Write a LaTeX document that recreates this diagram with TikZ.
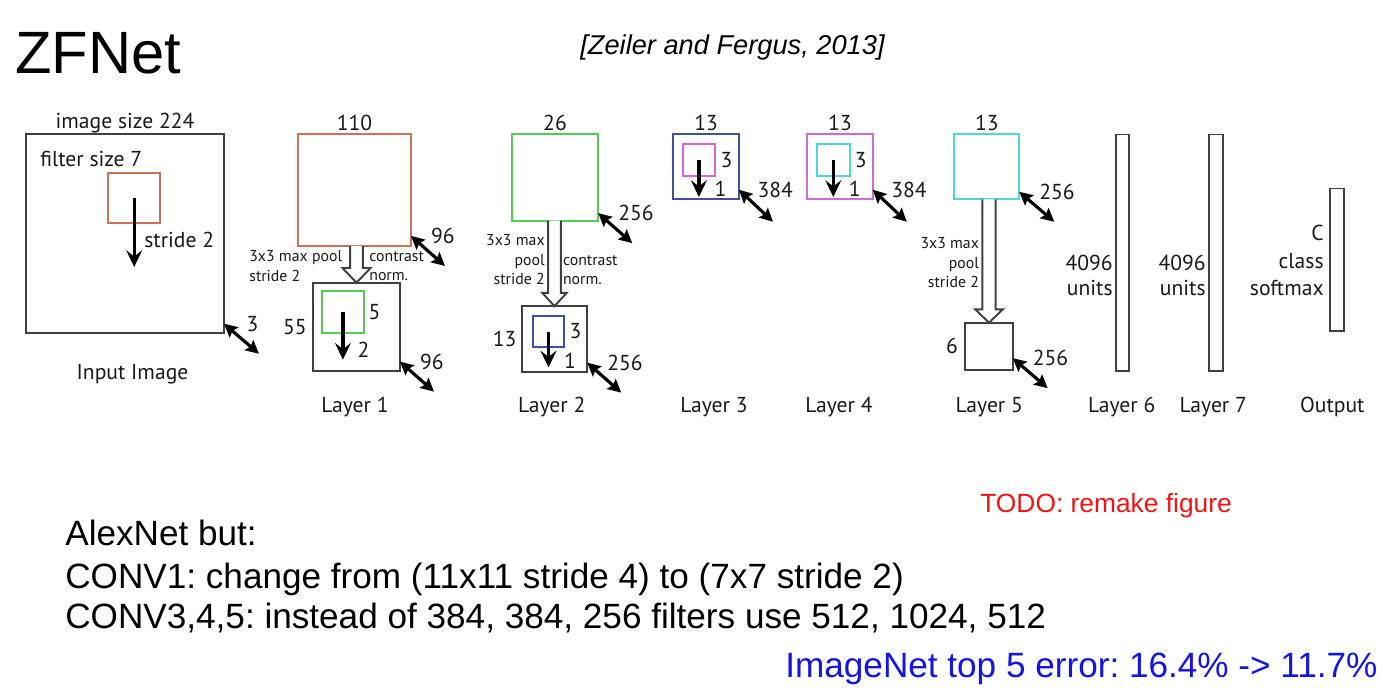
\documentclass[tikz,border=0pt]{standalone}
\usepackage{fontspec}
\setmainfont{Liberation Sans}
\newfontfamily\figfont{PT Sans}
\usetikzlibrary{arrows.meta, positioning, calc}
\frenchspacing

\definecolor{mapred}{RGB}{200,115,90}
\definecolor{mapgreen}{RGB}{85,205,85}
\definecolor{mapblue}{RGB}{65,80,160}
\definecolor{mapmagenta}{RGB}{210,105,215}
\definecolor{mapcyan}{RGB}{80,215,215}
\definecolor{todored}{RGB}{240,20,20}
\definecolor{netblue}{RGB}{20,20,230}

\begin{document}
\begin{tikzpicture}[
    x=0.02cm, y=-0.02cm,
    % --- Feature map boxes ---
    fmap/.style={
        draw=#1,
        line width=1.1pt,
        inner sep=0pt,
        outer sep=0pt
    },
    fmap/.default=black!75,
    % --- Figure texts ---
    figtext/.style={
        font=\figfont\fontsize{12.3}{14.5}\selectfont,
        inner sep=0pt,
        text=black!90
    },
    smalltext/.style={
        font=\figfont\fontsize{9}{11}\selectfont,
        inner sep=0pt,
        text=black!90
    },
    % --- Arrows ---
    stride arrow/.style={
        -{Stealth[length=9.5pt, width=9pt, inset=3.5pt]},
        line width=1.9pt
    },
    depth arrow/.style={
        {Stealth[length=7.5pt, width=7.5pt, inset=1.2pt]}-{Stealth[length=7.5pt, width=7.5pt, inset=1.2pt]},
        line width=1.8pt
    },
    depth label/.style={
        figtext,
        pos=0,
        anchor=west,
        xshift=0.37cm
    },
    pool arrow/.style={
        draw=black!75,
        fill=white,
        line width=1.1pt
    },
    % --- Slide texts ---
    slide text/.style={
        font=\fontsize{20}{24}\selectfont,
        inner sep=0pt,
        anchor=base west
    }
]
    \useasboundingbox (0,0) rectangle (1400,700);

    % =========================================
    % 1. TITLE
    % =========================================
    \node[font=\fontsize{34}{40}\selectfont, inner sep=0pt, anchor=base west] (title) at (15,73.5) {ZFNet};
    \node[font=\itshape\fontsize{15.5}{18}\selectfont, inner sep=0pt, anchor=base west] (cite) at (580,54.8) {[Zeiler and Fergus, 2013]};

    % =========================================
    % 2. INPUT IMAGE
    % =========================================
    \node[fmap, minimum width=3.96cm, minimum height=3.97cm] (inimg) at (125,233.5) {};
    \node[fmap=mapred, minimum width=1.03cm, minimum height=1.01cm] (infilt) at (134.2,198) {};
    \node[figtext, above=0.02cm of inimg] (insize) {image size 224};
    \node[figtext, anchor=base west] (infsize) at (40,166.7) {filter size 7};
    \node[figtext, anchor=base west] (instride) at (144,247.4) {stride 2};
    \draw[stride arrow] (infilt.center) -- ++(0,69);
    \draw[depth arrow] ([yshift=0.18cm]inimg.south east) -- ++(35,30) node[depth label, xshift=0.05cm] {3};
    \node[figtext, anchor=base] (inlabel) at (132.5,379) {Input Image};

    % =========================================
    % 3. LAYER 1
    % =========================================
    \node[fmap=mapred, minimum width=2.26cm, minimum height=2.23cm] (l1map) at (354.5,190.2) {};
    \node[fmap, minimum width=1.74cm, minimum height=1.76cm] (l1pool) at (356.5,326.6) {};
    \node[fmap=mapgreen, minimum width=0.85cm, minimum height=0.84cm] (l1filt) at (342.9,311.7) {};
    \node[figtext, above=0.06cm of l1map] {110};
    \node[figtext, left=0.12cm of l1pool] {55};
    \node[figtext, right=0.08cm of l1filt] {5};
    \draw[pool arrow] let \p1=(l1map.south), \p2=(l1pool.north) in
        (\x2-3.6pt,\y1) -- (\x2-3.6pt,\y2+8.3pt) -- (\x2-8pt,\y2+8.3pt) -- (\x2,\y2)
        -- (\x2+8pt,\y2+8.3pt) -- (\x2+3.6pt,\y2+8.3pt) -- (\x2+3.6pt,\y1);
    \node[smalltext, align=left, anchor=west] at (249,266) {3x3 max pool\\stride 2};
    \node[smalltext, align=left, anchor=west] at (369,266) {contrast\\norm.};
    \draw[stride arrow] (l1filt.center) -- ++(0,48) node[figtext, pos=1, anchor=west, xshift=0.26cm, yshift=0.2cm] {2};
    \draw[depth arrow] ([yshift=0.2cm]l1map.south east) -- ++(34,30) node[depth label] {96};
    \draw[depth arrow] ([yshift=0.18cm]l1pool.south east) -- ++(34,30) node[depth label] {96};
    \node[figtext, anchor=base] (l1label) at (355,412.4) {Layer 1};

    % =========================================
    % 4. LAYER 2
    % =========================================
    \node[fmap=mapgreen, minimum size=1.73cm] (l2map) at (555,177.4) {};
    \node[fmap, minimum size=1.31cm] (l2pool) at (554.5,338.9) {};
    \node[fmap=mapblue, minimum size=0.63cm] (l2filt) at (548.5,331.5) {};
    \node[figtext, above=0.06cm of l2map] {26};
    \node[figtext, left=0.1cm of l2pool] {13};
    \node[figtext, right=0.1cm of l2filt] {3};
    \draw[pool arrow] let \p1=(l2map.south), \p2=(l2pool.north) in
        (\x2-3.6pt,\y1) -- (\x2-3.6pt,\y2+7.6pt) -- (\x2-7pt,\y2+7.6pt) -- (\x2,\y2)
        -- (\x2+7pt,\y2+7.6pt) -- (\x2+3.6pt,\y2+7.6pt) -- (\x2+3.6pt,\y1);
    \node[smalltext, align=right, anchor=east] at (545,259.6) {3x3 max\\pool\\stride 2};
    \node[smalltext, align=left, anchor=west] at (562.7,270) {contrast\\norm.};
    \draw[stride arrow] (l2filt.center) -- ++(0,36) node[figtext, pos=1, anchor=west, xshift=0.28cm, yshift=0.14cm] {1};
    \draw[depth arrow] ([yshift=0.15cm]l2map.south east) -- ++(34,30) node[depth label] {256};
    \draw[depth arrow] ([yshift=0.18cm]l2pool.south east) -- ++(34,30) node[depth label] {256};
    \node[figtext, anchor=base] (l2label) at (551.7,412.4) {Layer 2};

    % =========================================
    % 5. LAYERS 3 AND 4
    % =========================================
    \node[fmap=mapblue, minimum size=1.31cm] (l3map) at (706.2,166.5) {};
    \node[fmap=mapmagenta, minimum size=0.65cm] (l3filt) at (698.9,160) {};
    \node[figtext, above=0.06cm of l3map] {13};
    \node[figtext, right=0.1cm of l3filt] {3};
    \draw[stride arrow] (l3filt.center) -- ++(0,37) node[figtext, pos=1, anchor=west, xshift=0.28cm, yshift=0.16cm] {1};
    \draw[depth arrow] ([yshift=0.19cm]l3map.south east) -- ++(34,32) node[depth label, xshift=-0.03cm] {384};
    \node[figtext, anchor=base] (l3label) at (714,412.4) {Layer 3};

    \node[fmap=mapmagenta, minimum size=1.31cm] (l4map) at (840,166.5) {};
    \node[fmap=mapcyan, minimum size=0.65cm] (l4filt) at (833.3,160) {};
    \node[figtext, above=0.06cm of l4map] {13};
    \node[figtext, right=0.1cm of l4filt] {3};
    \draw[stride arrow] (l4filt.center) -- ++(0,37) node[figtext, pos=1, anchor=west, xshift=0.28cm, yshift=0.16cm] {1};
    \draw[depth arrow] ([yshift=0.19cm]l4map.south east) -- ++(34,32) node[depth label, xshift=-0.03cm] {384};
    \node[figtext, anchor=base] (l4label) at (839,412.4) {Layer 4};

    % =========================================
    % 6. LAYER 5
    % =========================================
    \node[fmap=mapcyan, minimum size=1.30cm] (l5map) at (986.8,166.8) {};
    \node[fmap, minimum size=0.95cm] (l5pool) at (989,346.4) {};
    \node[figtext, above=0.06cm of l5map] {13};
    \node[figtext, left=0.14cm of l5pool] {6};
    \draw[pool arrow] let \p1=(l5map.south), \p2=(l5pool.north) in
        (\x2-3.8pt,\y1) -- (\x2-3.8pt,\y2+7.6pt) -- (\x2-7.9pt,\y2+7.6pt) -- (\x2,\y2)
        -- (\x2+7.9pt,\y2+7.6pt) -- (\x2+3.8pt,\y2+7.6pt) -- (\x2+3.8pt,\y1);
    \node[smalltext, align=right, anchor=east] at (979.3,262.8) {3x3 max\\pool\\stride 2};
    \draw[depth arrow] ([yshift=0.15cm]l5map.south east) -- ++(35,30) node[depth label] {256};
    \draw[depth arrow] ([yshift=0.24cm]l5pool.south east) -- ++(35,30) node[depth label] {256};
    \node[figtext, anchor=base] (l5label) at (989.3,412.4) {Layer 5};

    % =========================================
    % 7. FULLY CONNECTED LAYERS
    % =========================================
    \node[fmap, minimum width=0.27cm, minimum height=4.73cm] (l6bar) at (1122.7,252.7) {};
    \node[figtext, align=right, anchor=east] at (1113,275.5) {4096\\units};
    \node[figtext, anchor=base] (l6label) at (1121.7,412.4) {Layer 6};

    \node[fmap, minimum width=0.28cm, minimum height=4.73cm] (l7bar) at (1215.7,252.7) {};
    \node[figtext, align=right, anchor=east] at (1206,275.5) {4096\\units};
    \node[figtext, anchor=base] (l7label) at (1213.3,412.4) {Layer 7};

    \node[fmap, minimum width=0.29cm, minimum height=2.85cm] (outbar) at (1337.2,259.7) {};
    \node[figtext, align=right, anchor=east, font=\figfont\fontsize{12.3}{15.6}\selectfont] at (1324,260.5) {C\\class\\softmax};
    \node[figtext, anchor=base] (outlabel) at (1332.3,412.4) {Output};

    % =========================================
    % 8. NOTES
    % =========================================
    \node[font=\fontsize{15}{18}\selectfont, inner sep=0pt, anchor=base west, text=todored] (todo) at (980,512.5) {TODO: remake figure};
    \node[slide text] (note1) at (65,545.6) {AlexNet but:};
    \node[slide text] (note2) at (65,588.6) {CONV1: change from (11x11 stride 4) to (7x7 stride 2)};
    \node[slide text] (note3) at (65,628.6) {CONV3,4,5: instead of 384, 384, 256 filters use 512, 1024, 512};
    \node[slide text, text=netblue] (result) at (785,677.6) {ImageNet top 5 error: 16.4\% -> 11.7\%};

\end{tikzpicture}
\end{document}
